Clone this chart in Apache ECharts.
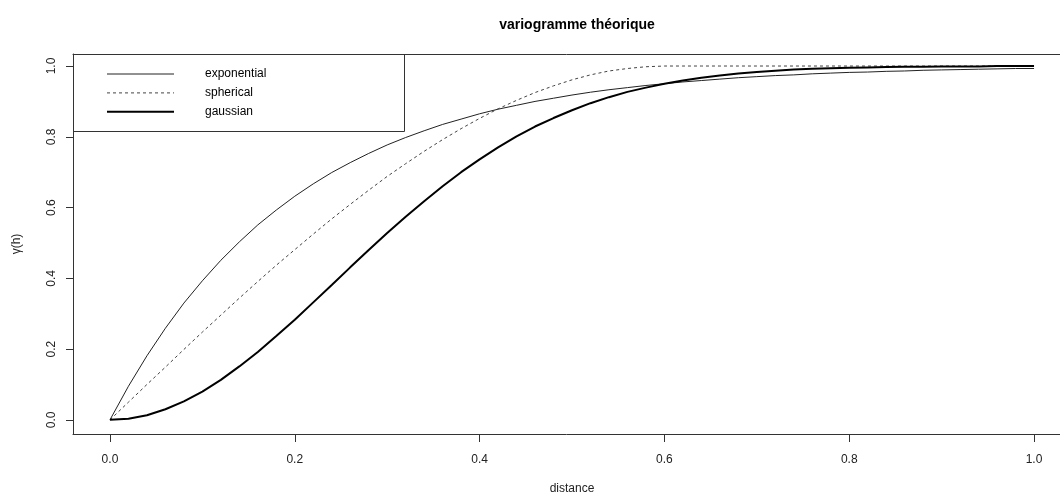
<!DOCTYPE html>
<html>
<head>
<meta charset="utf-8">
<script src="https://cdn.jsdelivr.net/npm/echarts@6/dist/echarts.min.js"></script>
<style>html,body{margin:0;padding:0;background:#fff;}#chart{width:1060px;height:495px;}</style>
</head>
<body>
<div id="chart"></div>
<script>
var distance = [0,0.02,0.04,0.06,0.08,0.10,0.12,0.14,0.16,0.18,0.20,0.22,0.24,0.26,0.28,0.30,0.32,0.34,0.36,0.38,0.40,0.42,0.44,0.46,0.48,0.50,0.52,0.54,0.56,0.58,0.60,0.62,0.64,0.66,0.68,0.70,0.72,0.74,0.76,0.78,0.80,0.82,0.84,0.86,0.88,0.90,0.92,0.94,0.96,0.98,1.00];
var exponential = [0,0.095,0.181,0.259,0.330,0.393,0.451,0.503,0.551,0.593,0.632,0.667,0.699,0.727,0.753,0.777,0.798,0.817,0.835,0.850,0.865,0.878,0.889,0.900,0.909,0.918,0.926,0.933,0.939,0.945,0.950,0.955,0.959,0.963,0.967,0.970,0.973,0.975,0.978,0.980,0.982,0.983,0.985,0.986,0.988,0.989,0.990,0.991,0.992,0.993,0.993];
var spherical = [0,0.050,0.100,0.149,0.199,0.248,0.296,0.344,0.391,0.437,0.481,0.525,0.568,0.609,0.649,0.688,0.724,0.759,0.792,0.823,0.852,0.879,0.903,0.925,0.944,0.961,0.975,0.986,0.993,0.998,1,1,1,1,1,1,1,1,1,1,1,1,1,1,1,1,1,1,1,1,1];
var gaussian = [0,0.003,0.013,0.030,0.052,0.080,0.113,0.151,0.192,0.237,0.283,0.332,0.381,0.431,0.480,0.528,0.574,0.618,0.660,0.700,0.736,0.770,0.801,0.829,0.853,0.875,0.895,0.912,0.927,0.939,0.950,0.959,0.967,0.973,0.979,0.983,0.987,0.990,0.992,0.994,0.995,0.996,0.997,0.998,0.998,0.999,0.999,0.999,1,1,1];
var xTicks = [0,0.2,0.4,0.6,0.8,1.0];
var yTicks = [0,0.2,0.4,0.6,0.8,1.0];
var seriesNames = ['exponential','spherical','gaussian'];

function pairs(ys){ return distance.map(function(x,i){ return [x, ys[i]]; }); }

var font = 'Liberation Sans, Arial, sans-serif';
var styles = {
  exponential: {color: '#222', width: 1, type: 'solid'},
  spherical: {color: '#444', width: 1, type: [3,3]},
  gaussian: {color: '#000', width: 2, type: 'solid'}
};
var chart = echarts.init(document.getElementById('chart'));
chart.setOption({
  animation: false,
  backgroundColor: '#fff',
  title: {
    text: 'variogramme théorique',
    left: 572, top: 13, textAlign: 'center',
    textStyle: {fontFamily: font, fontSize: 14, fontWeight: 'bold', color: '#000'}
  },
  grid: {left: 73, right: 0, top: 54, bottom: 61, containLabel: false},
  legend: {
    data: seriesNames.map(function(n){
      return {name: n, itemStyle: {opacity: 0}, lineStyle: {color: styles[n].color, width: styles[n].width, type: styles[n].type}};
    }),
    orient: 'vertical', left: 106, top: 68, padding: 0,
    itemWidth: 67, itemHeight: 14, itemGap: 6.9,
    itemStyle: {opacity: 0},
    textStyle: {fontFamily: font, fontSize: 12, color: '#000', padding: [0,0,0,26]},
    selectedMode: false
  },
  xAxis: [{
    type: 'value', min: -0.04, max: 1.0281, position: 'bottom',
    axisLine: {show: true, onZero: false, lineStyle: {color: '#333', width: 1}},
    axisTick: {show: true, customValues: xTicks, length: 8, inside: false, lineStyle: {color: '#333'}},
    axisLabel: {show: true, customValues: xTicks, margin: 20, fontFamily: font, fontSize: 12, color: '#222',
      formatter: function(v){ return v.toFixed(1); }},
    splitLine: {show: false}
  },{
    type: 'value', min: -0.04, max: 1.0281, position: 'top',
    axisLine: {show: true, onZero: false, lineStyle: {color: '#333', width: 1}},
    axisTick: {show: false}, axisLabel: {show: false}, splitLine: {show: false}
  }],
  yAxis: {
    type: 'value', min: -0.04, max: 1.034,
    axisLine: {show: true, onZero: false, lineStyle: {color: '#333', width: 1}},
    axisTick: {show: true, customValues: yTicks, length: 7, inside: false, lineStyle: {color: '#333'}},
    axisLabel: {show: true, customValues: yTicks, margin: 15, rotate: 90, fontFamily: font, fontSize: 12, color: '#222',
      formatter: function(v){ return v.toFixed(1); }},
    splitLine: {show: false}
  },
  graphic: [
    {type: 'rect', shape: {x: 73.5, y: 54.5, width: 331, height: 77}, style: {fill: 'none', stroke: '#333', lineWidth: 1}, z: 10},
    {type: 'text', x: 572, y: 489, style: {text: 'distance', fontFamily: font, fontSize: 12, fill: '#222', align: 'center', verticalAlign: 'middle'}},
    {type: 'text', x: 17, y: 244, rotation: Math.PI/2, style: {text: 'γ(h)', fontFamily: font, fontSize: 12, fill: '#222', align: 'center', verticalAlign: 'middle'}}
  ],
  series: seriesNames.map(function(n){
    var vals = n === 'exponential' ? exponential : (n === 'spherical' ? spherical : gaussian);
    return {name: n, type: 'line', data: pairs(vals), symbol: 'none', smooth: false,
      lineStyle: styles[n], itemStyle: {color: styles[n].color}};
  })
});
</script>
</body>
</html>
